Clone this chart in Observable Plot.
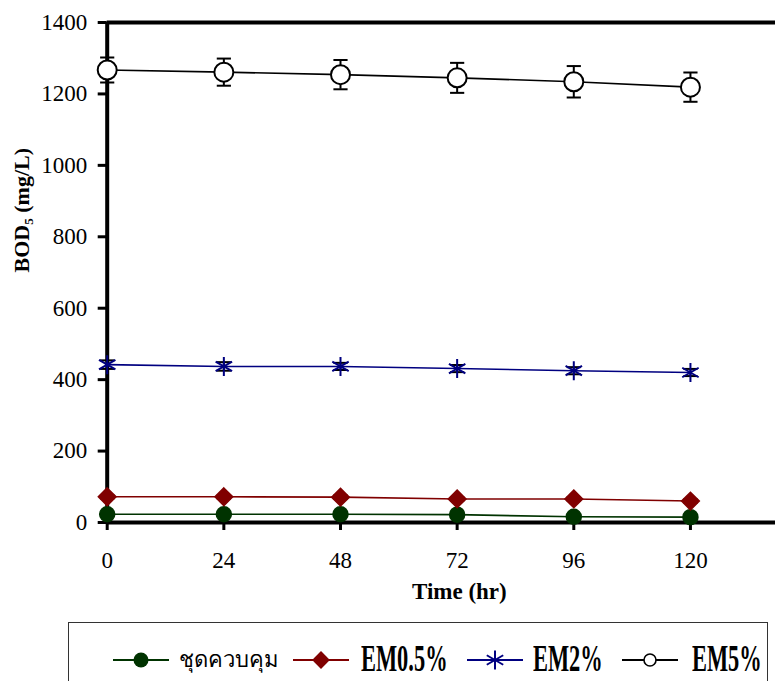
<!DOCTYPE html>
<html>
<head>
<meta charset="utf-8">
<script src="https://cdn.jsdelivr.net/npm/d3@7"></script>
<script src="https://cdn.jsdelivr.net/npm/@observablehq/plot@0.6"></script>
<style>
  html, body { margin: 0; padding: 0; background: #fff; overflow: hidden; }
  #chart { position: absolute; left: 0; top: 0; }
  #chart svg text { font-family: "Liberation Serif", "Times New Roman", serif; }
  .lgbox { position: absolute; left: 68px; top: 622px; width: 700px; height: 80px; border: 1.5px solid #333; box-sizing: border-box; }
  .lgsym { position: absolute; top: 646px; }
  .lgtxt { position: absolute; font-family: "Liberation Serif", serif; white-space: nowrap; }
  .em { font-size: 38px; font-weight: bold; transform: scaleX(0.59); transform-origin: left center; top: 637px; line-height: 42px; }
  .th { font-size: 22px; top: 645px; line-height: 30px; }
</style>
</head>
<body>
<div id="chart"></div>
<script>
// ---- data ----
const times = [0, 24, 48, 72, 96, 120];
const seriesNames = ["ชุดควบคุม", "EM0.5%", "EM2%", "EM5%"];
const controlValues = [23, 23, 23, 22, 16, 15];
const em05Values = [72, 72, 71, 66, 66, 60];
const em2Values = [442, 437, 437, 431, 425, 420];
const em5Values = [1267, 1261, 1254, 1245, 1234, 1219];
const controlErr = [4, 4, 4, 4, 4, 4];
const em05Err = [5, 5, 5, 5, 5, 5];
const em2Err = [12, 12, 10, 10, 10, 10];
const em5Err = [35, 38, 41, 42, 44, 41];
const yTicks = [0, 200, 400, 600, 800, 1000, 1200, 1400];
const xTicks = [0, 24, 48, 72, 96, 120];
const seriesColors = ["#003300", "#800000", "#000080", "#000000"];

const valueSets = [controlValues, em05Values, em2Values, em5Values];
const errSets = [controlErr, em05Err, em2Err, em5Err];
const rows = [];
seriesNames.forEach((name, si) => {
  times.forEach((t, i) => {
    rows.push({series: name, time: t, value: valueSets[si][i], err: errSets[si][i]});
  });
});
const bySeries = name => rows.filter(d => d.series === name);

const capSymbol = {
  draw(context, size) {
    const w = Math.sqrt(size);
    context.moveTo(-w, 0);
    context.lineTo(w, 0);
  }
};

const serif = "Liberation Serif, Times New Roman, serif";

const chart = Plot.plot({
  width: 775,
  height: 610,
  marginLeft: 106.7,
  marginRight: 0,
  marginTop: 22,
  marginBottom: 88,
  style: {fontFamily: serif, fontSize: "23px", background: "white"},
  x: {domain: [0, 137.5]},
  y: {domain: [0, 1400]},
  marks: [
    Plot.axisY({ticks: yTicks, tickFormat: d => String(d), tickSize: 9, tickPadding: 11, strokeWidth: 3, fontSize: 23, fontFamily: serif, label: null}),
    Plot.axisX({ticks: xTicks, tickFormat: d => String(d), tickSize: 8, tickPadding: 21, strokeWidth: 3, fontSize: 23, fontFamily: serif, label: null}),
    Plot.ruleY([0, 1400], {strokeWidth: 4, stroke: "black"}),
    Plot.ruleX([0], {strokeWidth: 4, stroke: "black"}),
    // lines
    ...seriesNames.map((name, si) => Plot.line(bySeries(name), {x: "time", y: "value", stroke: seriesColors[si], strokeWidth: 1.6})),
    // error bars
    Plot.ruleX(rows, {x: "time", y1: d => d.value - d.err, y2: d => d.value + d.err, stroke: "black", strokeWidth: 2}),
    Plot.dot(rows, {x: "time", y: d => d.value + d.err, symbol: capSymbol, r: 4, stroke: "black", strokeWidth: 2}),
    Plot.dot(rows, {x: "time", y: d => d.value - d.err, symbol: capSymbol, r: 4, stroke: "black", strokeWidth: 2}),
    // markers
    Plot.dot(bySeries(seriesNames[0]), {x: "time", y: "value", r: 7.5, fill: seriesColors[0], stroke: seriesColors[0], symbol: "circle"}),
    Plot.dot(bySeries(seriesNames[1]), {x: "time", y: "value", r: 8, fill: seriesColors[1], stroke: seriesColors[1], symbol: "diamond2"}),
    Plot.dot(bySeries(seriesNames[2]), {x: "time", y: "value", r: 9, stroke: seriesColors[2], strokeWidth: 2, symbol: "asterisk"}),
    Plot.dot(bySeries(seriesNames[3]), {x: "time", y: "value", r: 9.5, fill: "white", stroke: "black", strokeWidth: 2, symbol: "circle"}),
    // axis titles
    Plot.text(["BOD₅ (mg/L)"], {frameAnchor: "left", dx: -85, rotate: -90, fontWeight: "bold", fontSize: 22, fontFamily: serif}),
    Plot.text(["Time (hr)"], {frameAnchor: "bottom", dx: 18, dy: 76, fontWeight: "bold", fontSize: 23, fontFamily: serif})
  ]
});
document.getElementById("chart").appendChild(chart);

// ---- legend ----
const legendSpec = [
  {x: 113, tx: 179, cls: "th", sym: "circle"},
  {x: 293, tx: 361, cls: "em", sym: "diamond2"},
  {x: 467, tx: 533, cls: "em", sym: "asterisk"},
  {x: 622, tx: 692, cls: "em", sym: "open"}
];
const box = document.createElement("div");
box.className = "lgbox";
document.body.appendChild(box);
legendSpec.forEach((spec, i) => {
  const svg = d3.create("svg").attr("class", "lgsym").attr("width", 56).attr("height", 28)
    .style("left", spec.x + "px");
  svg.append("line").attr("x1", 0).attr("x2", 56).attr("y1", 14).attr("y2", 14)
    .attr("stroke", seriesColors[i]).attr("stroke-width", 2);
  const g = svg.append("g").attr("transform", "translate(28,14)");
  if (spec.sym === "circle") {
    g.append("circle").attr("r", 7.5).attr("fill", seriesColors[i]);
  } else if (spec.sym === "diamond2") {
    g.append("path").attr("d", d3.symbol(d3.symbolDiamond2, Math.PI * 64)()).attr("fill", seriesColors[i]);
  } else if (spec.sym === "asterisk") {
    g.append("path").attr("d", d3.symbol(d3.symbolAsterisk, Math.PI * 81)()).attr("stroke", seriesColors[i]).attr("stroke-width", 2).attr("fill", "none");
  } else {
    g.append("circle").attr("r", 6).attr("fill", "white").attr("stroke", "black").attr("stroke-width", 1.6);
  }
  document.body.appendChild(svg.node());
  const t = document.createElement("div");
  t.className = "lgtxt " + spec.cls;
  t.style.left = spec.tx + "px";
  t.textContent = seriesNames[i];
  document.body.appendChild(t);
});
</script>
</body>
</html>
